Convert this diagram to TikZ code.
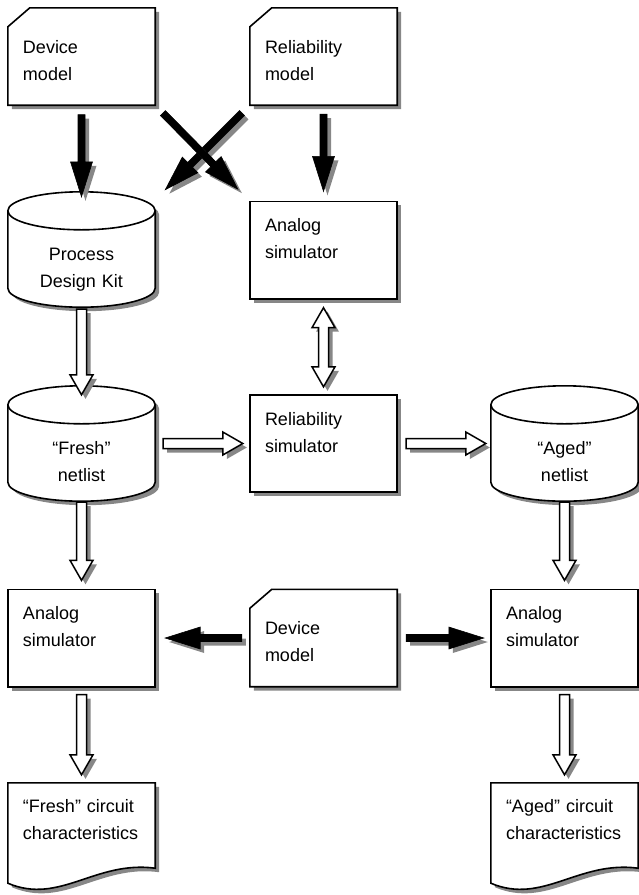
\documentclass[tikz,border=0pt]{standalone}
\usepackage{fontspec}
\setmainfont{Liberation Sans}
\usepackage{tikz}
\usetikzlibrary{calc,backgrounds}
\definecolor{shadowgray}{RGB}{135,135,135}
\tikzstyle{cardtext} = [rectangle, inner xsep=15pt, inner ysep=0pt,
                     text width=117pt, align=left,
                     text height=45pt, text depth=52pt]
\tikzstyle{boxtext} = [rectangle, inner xsep=15pt, inner ysep=0pt,
                     text width=117pt, align=left,
                     text height=30pt, text depth=67pt]
\tikzstyle{cyltext} = [rectangle, inner sep=0pt, text width=147pt, align=center,
                     text height=68pt, text depth=47pt]
\tikzstyle{doctext} = [rectangle, inner xsep=15pt, inner ysep=0pt,
                     text width=117pt, align=left,
                     text height=29pt, text depth=71pt]
% outlines of the shapes, #1 node, #2 offset
\newcommand{\cardpath}[2]{($(#1.north west)+#2+(0,19)$) -- ($(#1.north west)+#2+(22,0)$) -- ($(#1.north east)+#2$)
     -- ($(#1.south east)+#2$) -- ($(#1.south west)+#2$) -- cycle}
\newcommand{\boxpath}[2]{($(#1.north west)+#2$) rectangle ($(#1.south east)+#2$)}
\newcommand{\cylpath}[2]{($(#1.north west)+#2+(0,19)$) -- ($(#1.south west)+#2+(0,-19)$)
     .. controls +(0,10.5) and +(-40.6,0) .. ($(#1.south)+#2$)
     .. controls +(40.6,0) and +(0,10.5) .. ($(#1.south east)+#2+(0,-19)$) -- ($(#1.north east)+#2+(0,19)$)
     .. controls +(0,-10.5) and +(40.6,0) .. ($(#1.north)+#2$)
     .. controls +(-40.6,0) and +(0,-10.5) .. cycle}
\newcommand{\docpath}[2]{($(#1.north west)+#2$) -- ($(#1.south west)+#2$)
     .. controls +(52,22) and +(-60,-8) .. ($(#1.south east)+#2+(0,-15)$) -- ($(#1.north east)+#2$) -- cycle}
% polygon with its shadow: style, first point, other points
\newcommand{\shadowpoly}[3]{%
  \fill[shadowfill] ($(#2)+(4,4)$) \foreach \q in {#3}{ -- ($(\q)+(4,4)$)} -- cycle;
  \draw[#1] (#2) \foreach \q in {#3}{ -- (\q)} -- cycle;}
% block arrow: style, from, to, gap at start, gap at end
\newcommand{\blockarrow}[5]{%
  \coordinate (ba0) at ($(#2)!#4!(#3)$);
  \coordinate (ba1) at ($(#3)!#5!(#2)$);
  \coordinate (bah) at ($(ba1)!\headlen!(ba0)$);
  \coordinate (q1) at ($(ba0)!\shaft!90:(ba1)$);
  \coordinate (q2) at ($(bah)!\shaft!90:(ba1)$);
  \coordinate (q3) at ($(bah)!\headw!90:(ba1)$);
  \coordinate (q4) at ($(bah)!\headw!-90:(ba1)$);
  \coordinate (q5) at ($(bah)!\shaft!-90:(ba1)$);
  \coordinate (q6) at ($(ba0)!\shaft!-90:(ba1)$);
  \shadowpoly{#1}{q1}{q2,q3,ba1,q4,q5,q6}}
\newcommand{\dblarrow}[5]{%
  \coordinate (ba0) at ($(#2)!#4!(#3)$);
  \coordinate (ba1) at ($(#3)!#5!(#2)$);
  \coordinate (bah) at ($(ba1)!\headlen!(ba0)$);
  \coordinate (bat) at ($(ba0)!\headlen!(ba1)$);
  \coordinate (q1) at ($(bat)!\headw!90:(ba1)$);
  \coordinate (q2) at ($(bat)!\shaft!90:(ba1)$);
  \coordinate (q3) at ($(bah)!\shaft!90:(ba1)$);
  \coordinate (q4) at ($(bah)!\headw!90:(ba1)$);
  \coordinate (q5) at ($(bah)!\headw!-90:(ba1)$);
  \coordinate (q6) at ($(bah)!\shaft!-90:(ba1)$);
  \coordinate (q7) at ($(bat)!\shaft!-90:(ba1)$);
  \coordinate (q8) at ($(bat)!\headw!-90:(ba1)$);
  \shadowpoly{#1}{ba0}{q1,q2,q3,q4,ba1,q5,q6,q7,q8}}
\begin{document}
\begin{tikzpicture}[x=1pt, y=-1pt, font=\fontsize{18}{27}\selectfont,
shadowfill/.style={fill=shadowgray, draw=none},
outline/.style={draw, line width=1.6pt, fill=white},
blackarrow/.style={draw=black, fill=black, line width=0.6pt},
whitearrow/.style={draw=black, fill=white, line width=1.5pt}]
\useasboundingbox (0,0) rectangle (639,895);

%Models
\node[cardtext] (devA) at (81.5,56.5) {Device\\model};
\node[cardtext] (relA) at (323.5,56.5) {Reliability\\model};
\node[cyltext] (pdk) at (81.5,249.5) {Process\\Design Kit};
\node[boxtext] (anaA) at (323.5,250) {Analog\\simulator};

%Netlists
\node[cyltext] (freshNet) at (81.5,443.5) {“Fresh”\\netlist};
\node[boxtext] (relSim) at (323.5,443.5) {Reliability\\simulator};
\node[cyltext] (agedNet) at (564.5,443.5) {“Aged”\\netlist};

%Simulation
\node[boxtext] (anaL) at (81.5,638) {Analog\\simulator};
\node[cardtext] (devB) at (323.5,638) {Device\\model};
\node[boxtext] (anaR) at (564.5,638) {Analog\\simulator};

%Results
\node[doctext] (freshChar) at (81.5,833) {“Fresh” circuit\\characteristics};
\node[doctext] (agedChar) at (564.5,833) {“Aged” circuit\\characteristics};

\begin{scope}[on background layer]
% cards
\foreach \n in {devA,relA,devB}{
  \fill[shadowfill] \cardpath{\n}{(4,4)};
  \draw[outline] \cardpath{\n}{(0,0)};
}
% boxes
\foreach \n in {anaA,relSim,anaL,anaR}{
  \fill[shadowfill] \boxpath{\n}{(4,4)};
  \draw[outline] \boxpath{\n}{(0,0)};
}
% cylinders
\foreach \n in {pdk,freshNet,agedNet}{
  \fill[shadowfill] \cylpath{\n}{(4,4)};
  \draw[outline] \cylpath{\n}{(0,0)};
  \draw[line width=1.6pt] ($(\n.north west)+(0,19)$) .. controls +(0,10.5) and +(-40.6,0) .. ($(\n.north)+(0,38)$)
     .. controls +(40.6,0) and +(0,10.5) .. ($(\n.north east)+(0,19)$);
}
% documents
\foreach \n in {freshChar,agedChar}{
  \fill[shadowfill] \docpath{\n}{(4,4)};
  \draw[outline] \docpath{\n}{(0,0)};
}
\end{scope}

% black arrows
\def\shaft{3.5pt}\def\headw{11pt}\def\headlen{35pt}
\blockarrow{blackarrow}{devA.south}{pdk.north}{9.5pt}{-5pt}
\blockarrow{blackarrow}{relA.south}{anaA.north}{9pt}{10pt}
\coordinate (pdkCorner) at ($(pdk.north east)+(8,0)$);
\blockarrow{blackarrow}{relA.south west}{pdkCorner}{11pt}{3pt}
\blockarrow{blackarrow}{devA.south east}{anaA.north west}{11pt}{17pt}
\blockarrow{blackarrow}{devB.west}{anaL.east}{8pt}{10pt}
\blockarrow{blackarrow}{devB.east}{anaR.west}{9pt}{7pt}

% white arrows
\def\shaft{5pt}\def\headw{11.5pt}\def\headlen{20pt}
\blockarrow{whitearrow}{pdk.south}{freshNet.north}{2pt}{-9pt}
\dblarrow{whitearrow}{anaA.south}{relSim.north}{9pt}{8pt}
\blockarrow{whitearrow}{freshNet.east}{relSim.west}{8pt}{7pt}
\blockarrow{whitearrow}{relSim.east}{agedNet.west}{9pt}{5pt}
\blockarrow{whitearrow}{freshNet.south}{anaL.north}{1pt}{9pt}
\blockarrow{whitearrow}{agedNet.south}{anaR.north}{1pt}{9pt}
\blockarrow{whitearrow}{anaL.south}{freshChar.north}{8pt}{8pt}
\blockarrow{whitearrow}{anaR.south}{agedChar.north}{8pt}{8pt}
\end{tikzpicture}
\end{document}
